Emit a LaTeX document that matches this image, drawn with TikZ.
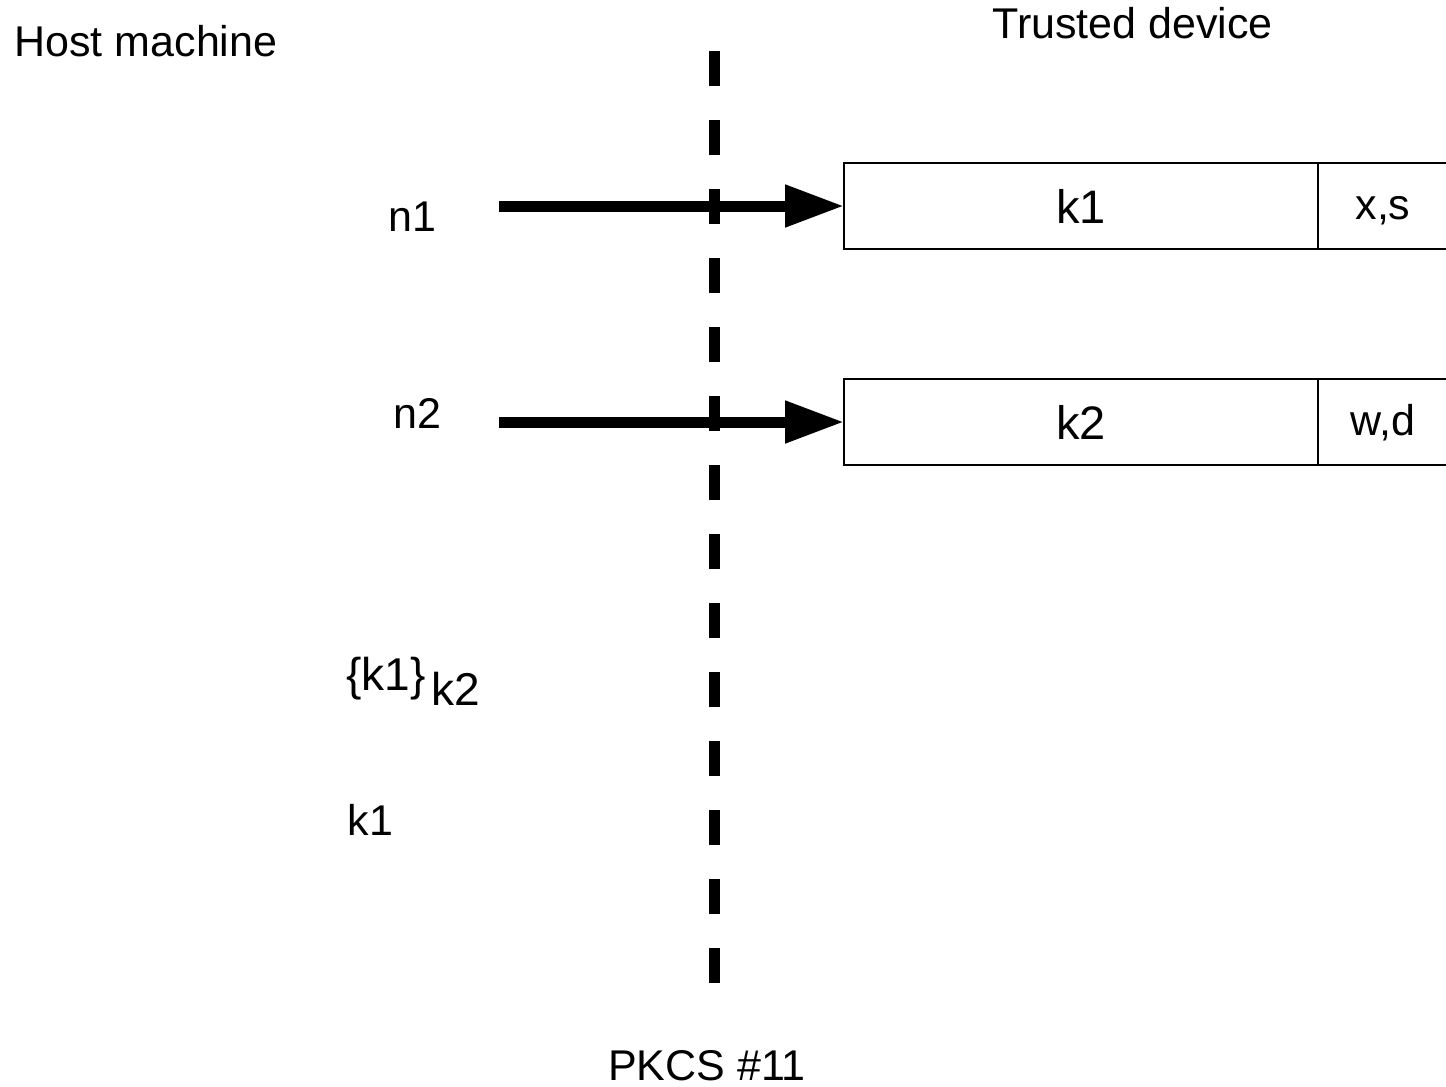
\documentclass[tikz,border=0pt]{standalone}
\usepackage{fontspec}
\setmainfont{Liberation Sans}
\usetikzlibrary{arrows.meta,positioning}

\begin{document}
\begin{tikzpicture}[x=0.5pt,y=-0.5pt,>={Triangle[length=29.5pt,width=20pt]},line width=5.5pt,font=\fontsize{21.5}{25}\selectfont]
%bounding box = reference size in px

   \useasboundingbox (0,0) rectangle (1446,1087);
   \tikzstyle{txt}=[inner sep=0pt,anchor=base west]
   \tikzstyle{keybox}=[draw,line width=0.7pt,outer sep=0pt,inner sep=0pt,minimum width=237pt,minimum height=43pt,
                       text height=17pt,text depth=0pt,font=\fontsize{23.5}{27}\selectfont]
   \tikzstyle{attrbox}=[draw,line width=0.7pt,outer sep=0pt,inner sep=0pt,minimum width=65pt,minimum height=43pt,
                        text height=13.5pt,text depth=0pt]

  \node[txt] (host) at (9,56) {Host machine};
  \node[txt] (dev) at (987,38) {Trusted device};

  \node[keybox] (key1) at (1081,206) {k1};
  \node[attrbox] (attr1) [right=0pt of key1] {x,s};
  \node[keybox] (key2) at (1081,422) {k2};
  \node[attrbox] (attr2) [right=0pt of key2] {w,d};

  \node[txt] (n1) at (383,231) {n1};
  \node[txt] (n2) at (388,428) {n2};
  \node[txt,font=\fontsize{23}{27}\selectfont] (wrap) at (341,690) {\{k1\}\hspace{3pt}\raisebox{-7.5pt}{k2}};
  \node[txt] (plain) at (342,835) {k1};
  \node[inner sep=0pt,anchor=base] (pkcs) at (707,1080) {PKCS \#11};

  \coordinate (apitop) at (714,51);
  \coordinate (apibot) at (714,983);
  \coordinate (n1tail) at (499,206);
  \coordinate (n2tail) at (499,422);

%, API boundary
 \draw [dash pattern=on 17.5pt off 17pt] (apitop) -- (apibot);
 \path [->] (n1tail) edge (key1)
            (n2tail) edge (key2);

\end{tikzpicture}
\end{document}
